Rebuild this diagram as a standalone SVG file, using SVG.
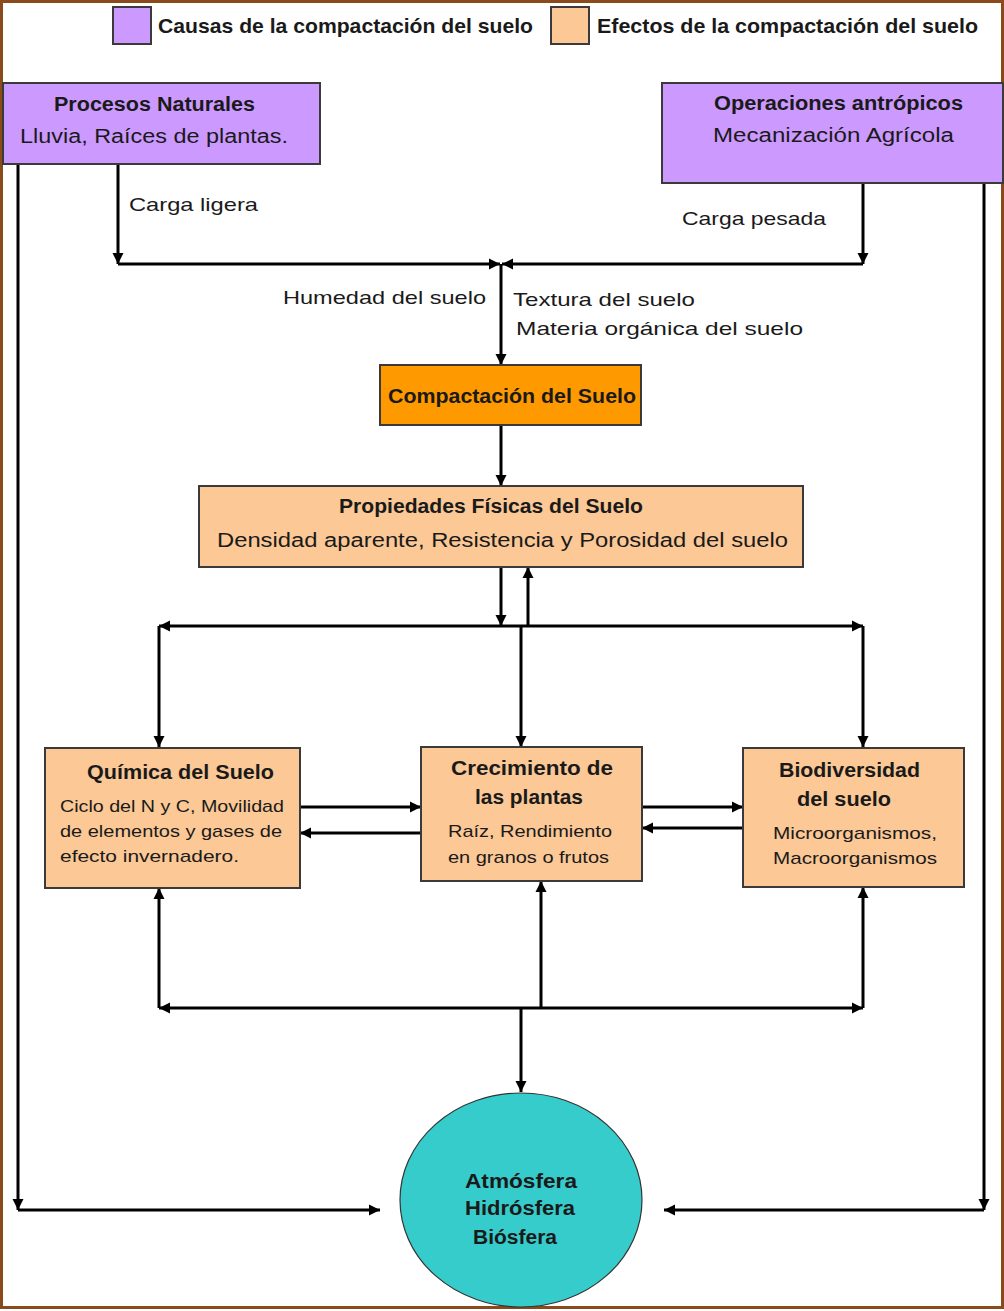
<svg xmlns="http://www.w3.org/2000/svg" width="1004" height="1311" viewBox="0 0 1004 1311">
<defs>
<marker id="ah" markerUnits="userSpaceOnUse" markerWidth="12" markerHeight="12" refX="11" refY="6" orient="auto">
<path d="M0,0.5 L11,6 L0,11.5 z" fill="#000"/>
</marker>
<style>
.t{font-family:"Liberation Sans",Arial,sans-serif;fill:#1a1a1a;}
.b{font-weight:bold;}
.box{stroke:#3a3a3a;stroke-width:2;}
.pur{fill:#CC99FF;}
.pea{fill:#FBC896;}
.ln{fill:none;stroke:#000;stroke-width:3;}
.ar{marker-end:url(#ah);}
</style>
</defs>
<rect x="0" y="0" width="1004" height="1311" fill="#fff"/>
<rect x="1.5" y="1.5" width="1001" height="1306" fill="none" stroke="#8B4A1C" stroke-width="3"/>

<g id="legend">
<rect x="113" y="7" width="38" height="37" class="box pur"/>
<text class="t b" x="158" y="33" font-size="21" textLength="375" lengthAdjust="spacingAndGlyphs">Causas de la compactación del suelo</text>
<rect x="551" y="7" width="38" height="37" class="box pea"/>
<text class="t b" x="597" y="33" font-size="21" textLength="381" lengthAdjust="spacingAndGlyphs">Efectos de la compactación del suelo</text>
</g>

<g id="connectors">
<path class="ln ar" d="M18,164 V1210"/>
<path class="ln ar" d="M18,1210 H380"/>
<path class="ln ar" d="M118,164 V264"/>
<path class="ln ar" d="M118,264 H500"/>
<path class="ln ar" d="M863,183 V264"/>
<path class="ln ar" d="M863,264 H502"/>
<path class="ln ar" d="M984,183 V1210"/>
<path class="ln ar" d="M984,1210 H664"/>
<path class="ln ar" d="M501,264 V365"/>
<path class="ln ar" d="M501,425 V486"/>
<path class="ln ar" d="M501,567 V626"/>
<path class="ln ar" d="M528,626 V567"/>
<path class="ln ar" d="M501,626 H159"/>
<path class="ln ar" d="M501,626 H863"/>
<path class="ln ar" d="M159,626 V747"/>
<path class="ln ar" d="M521,626 V747"/>
<path class="ln ar" d="M863,626 V747"/>
<path class="ln ar" d="M300,807 H421"/>
<path class="ln ar" d="M421,833 H300"/>
<path class="ln ar" d="M642,807 H743"/>
<path class="ln ar" d="M743,828 H642"/>
<path class="ln ar" d="M159,1008 V888"/>
<path class="ln ar" d="M541,1008 V881"/>
<path class="ln ar" d="M863,1008 V887"/>
<path class="ln ar" d="M521,1008 H159"/>
<path class="ln ar" d="M521,1008 H863"/>
<path class="ln ar" d="M521,1008 V1092"/>
</g>

<g id="procesos-naturales">
<rect x="3" y="83" width="317" height="81" class="box pur"/>
<text class="t b" x="54" y="111" font-size="20" textLength="201" lengthAdjust="spacingAndGlyphs">Procesos Naturales</text>
<text class="t" x="20" y="143" font-size="20" textLength="268" lengthAdjust="spacingAndGlyphs">Lluvia, Raíces de plantas.</text>
</g>

<g id="operaciones-antropicos">
<rect x="662" y="83" width="341" height="100" class="box pur"/>
<text class="t b" x="714" y="110" font-size="20" textLength="249" lengthAdjust="spacingAndGlyphs">Operaciones antrópicos</text>
<text class="t" x="713" y="142" font-size="20" textLength="241" lengthAdjust="spacingAndGlyphs">Mecanización Agrícola</text>
</g>

<g id="labels">
<text class="t" x="129" y="211" font-size="19" textLength="129" lengthAdjust="spacingAndGlyphs">Carga ligera</text>
<text class="t" x="682" y="225" font-size="19" textLength="144" lengthAdjust="spacingAndGlyphs">Carga pesada</text>
<text class="t" x="283" y="304" font-size="19" textLength="203" lengthAdjust="spacingAndGlyphs">Humedad del suelo</text>
<text class="t" x="513" y="306" font-size="19" textLength="182" lengthAdjust="spacingAndGlyphs">Textura del suelo</text>
<text class="t" x="516" y="335" font-size="19" textLength="287" lengthAdjust="spacingAndGlyphs">Materia orgánica del suelo</text>
</g>

<g id="compactacion">
<rect x="380" y="365" width="261" height="60" class="box" fill="#FF9900"/>
<text class="t b" x="388" y="403" font-size="20" textLength="248" lengthAdjust="spacingAndGlyphs">Compactación del Suelo</text>
</g>

<g id="propiedades-fisicas">
<rect x="199" y="486" width="604" height="81" class="box pea"/>
<text class="t b" x="339" y="513" font-size="20" textLength="304" lengthAdjust="spacingAndGlyphs">Propiedades Físicas del Suelo</text>
<text class="t" x="217" y="547" font-size="20" textLength="571" lengthAdjust="spacingAndGlyphs">Densidad aparente, Resistencia y Porosidad del suelo</text>
</g>

<g id="quimica">
<rect x="45" y="748" width="255" height="140" class="box pea"/>
<text class="t b" x="87" y="779" font-size="20" textLength="187" lengthAdjust="spacingAndGlyphs">Química del Suelo</text>
<text class="t" x="60" y="812" font-size="17" textLength="224" lengthAdjust="spacingAndGlyphs">Ciclo del N y C, Movilidad</text>
<text class="t" x="60" y="837" font-size="17" textLength="222" lengthAdjust="spacingAndGlyphs">de elementos y gases de</text>
<text class="t" x="60" y="862" font-size="17" textLength="179" lengthAdjust="spacingAndGlyphs">efecto invernadero.</text>
</g>

<g id="crecimiento">
<rect x="421" y="747" width="221" height="134" class="box pea"/>
<text class="t b" x="451" y="775" font-size="20" textLength="162" lengthAdjust="spacingAndGlyphs">Crecimiento de</text>
<text class="t b" x="475" y="804" font-size="20" textLength="108" lengthAdjust="spacingAndGlyphs">las plantas</text>
<text class="t" x="448" y="837" font-size="17" textLength="164" lengthAdjust="spacingAndGlyphs">Raíz, Rendimiento</text>
<text class="t" x="448" y="863" font-size="17" textLength="161" lengthAdjust="spacingAndGlyphs">en granos o frutos</text>
</g>

<g id="biodiversidad">
<rect x="743" y="748" width="221" height="139" class="box pea"/>
<text class="t b" x="779" y="777" font-size="20" textLength="141" lengthAdjust="spacingAndGlyphs">Biodiversidad</text>
<text class="t b" x="797" y="806" font-size="20" textLength="94" lengthAdjust="spacingAndGlyphs">del suelo</text>
<text class="t" x="773" y="839" font-size="17" textLength="164" lengthAdjust="spacingAndGlyphs">Microorganismos,</text>
<text class="t" x="773" y="864" font-size="17" textLength="164" lengthAdjust="spacingAndGlyphs">Macroorganismos</text>
</g>

<g id="esferas">
<ellipse cx="521" cy="1200" rx="121" ry="107" fill="#36CCCB" stroke="#333" stroke-width="1.2"/>
<text class="t b" x="465" y="1188" font-size="20" textLength="112" lengthAdjust="spacingAndGlyphs">Atmósfera</text>
<text class="t b" x="465" y="1215" font-size="20" textLength="110" lengthAdjust="spacingAndGlyphs">Hidrósfera</text>
<text class="t b" x="473" y="1244" font-size="20" textLength="84" lengthAdjust="spacingAndGlyphs">Biósfera</text>
</g>
</svg>
